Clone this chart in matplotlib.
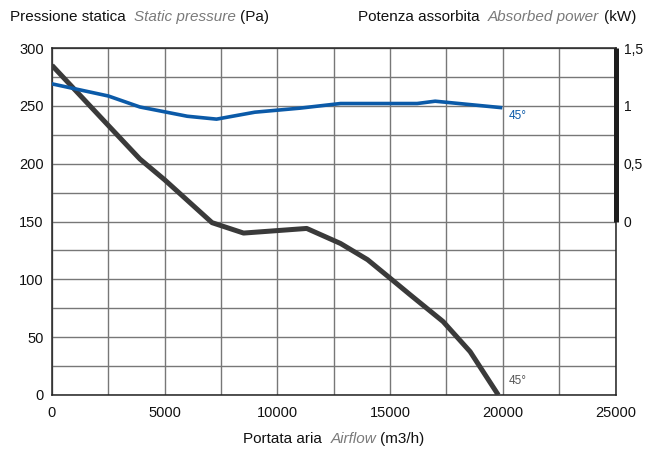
import matplotlib
matplotlib.use("Agg")
import matplotlib.pyplot as plt
from matplotlib.ticker import MultipleLocator, FixedLocator, FuncFormatter

plt.rcParams['font.family'] = ['Liberation Sans', 'DejaVu Sans']

# Static pressure curve (Pa) vs airflow (m3/h)
pressure_flow = [0, 2500, 3900, 5000, 7100, 8500, 11300, 12800, 14000, 15000, 15900, 17350, 18550, 19800]
pressure_pa = [285, 233, 204, 186, 149, 140, 144, 131, 117, 101, 86.5, 63.5, 37.5, 0]

# Absorbed power curve (kW) vs airflow (m3/h)
power_flow = [0, 2500, 3900, 6000, 7300, 9000, 11000, 12800, 16200, 17000, 19900]
power_kw = [1.19, 1.085, 0.99, 0.91, 0.885, 0.945, 0.98, 1.02, 1.02, 1.04, 0.985]

x_ticks = [0, 5000, 10000, 15000, 20000, 25000]
y_ticks = [0, 50, 100, 150, 200, 250, 300]
power_ticks = [0, 0.5, 1, 1.5]

blue = '#0b5aa8'
dark = '#3a3a3a'
grid_c = '#777777'

fig = plt.figure(figsize=(6.46, 4.5), dpi=100)
ax = fig.add_axes([52/646, 1-395/450, (615.5-52)/646, (395-48)/450])
ax.set_xlim(0, 25000)
ax.set_ylim(0, 300)
ax.xaxis.set_major_locator(FixedLocator(x_ticks))
ax.yaxis.set_major_locator(FixedLocator(y_ticks))
ax.xaxis.set_minor_locator(MultipleLocator(2500))
ax.yaxis.set_minor_locator(MultipleLocator(25))
ax.grid(True, which='both', color=grid_c, lw=1.0)
ax.set_axisbelow(True)
ax.tick_params(which='both', length=0, labelsize=10.5, colors='#111111')
ax.tick_params(axis='x', pad=8)
ax.tick_params(axis='y', pad=6)
for s in ['left', 'bottom', 'top', 'right']:
    ax.spines[s].set_color('#222222')
    ax.spines[s].set_linewidth(1.1)

ax.plot(pressure_flow, pressure_pa, color=dark, lw=3.6, solid_capstyle='butt', zorder=4)

ax2 = ax.twinx()
ax2.set_ylim(-1.5, 1.5)
ax2.yaxis.set_major_locator(FixedLocator(power_ticks))
ax2.yaxis.set_major_formatter(FuncFormatter(lambda v, p: ('%g' % v).replace('.', ',')))
ax2.tick_params(length=0, labelsize=10, pad=6, colors='#111111')
for s in ax2.spines.values():
    s.set_visible(False)
ax2.plot(power_flow, power_kw, color=blue, lw=2.6, zorder=4)
ax2.plot([25000, 25000], [0, 1.5], color='#1e1e1e', lw=3.6, solid_capstyle='butt', clip_on=False)

ax2.text(20250, 0.96, '45°', color=blue, fontsize=8.5, va='top', ha='left')
ax.text(20250, 7, '45°', color='#555555', fontsize=8.5, va='bottom', ha='left')

# Titles
fs = 11
t1 = fig.text(10/646, 1-17/450, 'Pressione statica  ', fontsize=fs, va='center', ha='left', color='#111111')
t2 = ax.annotate('Static pressure ', xy=(1, 0), xycoords=t1, va='bottom', ha='left',
                 fontsize=fs, style='italic', color='#7a7a7a')
ax.annotate('(Pa)', xy=(1, 0), xycoords=t2, va='bottom', ha='left', fontsize=fs, color='#111111')

r1 = fig.text(636/646, 1-17/450, '(kW)', fontsize=fs, va='center', ha='right', color='#111111')
r2 = ax.annotate('Absorbed power ', xy=(0, 0), xycoords=r1, va='bottom', ha='right',
                 fontsize=fs, style='italic', color='#7a7a7a')
ax.annotate('Potenza assorbita  ', xy=(0, 0), xycoords=r2, va='bottom', ha='right', fontsize=fs, color='#111111')

# X label
x1 = fig.text(243/646, 1-439/450, 'Portata aria  ', fontsize=fs, va='center', ha='left', color='#111111')
x2 = ax.annotate('Airflow ', xy=(1, 0), xycoords=x1, va='bottom', ha='left',
                 fontsize=fs, style='italic', color='#7a7a7a')
ax.annotate('(m3/h)', xy=(1, 0), xycoords=x2, va='bottom', ha='left', fontsize=fs, color='#111111')

fig.savefig('out.png', dpi=100)
